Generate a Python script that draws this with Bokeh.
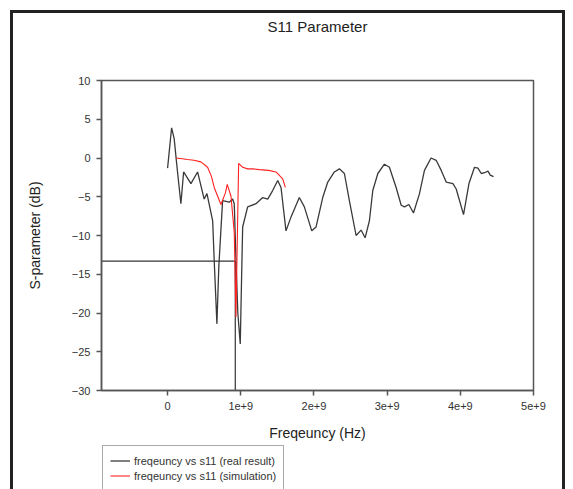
from bokeh.plotting import figure
from bokeh.layouts import column
from bokeh.models import FixedTicker, Range1d, Legend, LegendItem, LinearAxis
from bokeh.embed import file_html
from bokeh.resources import INLINE

# ---- data (frequency in GHz -> Hz, S11 in dB) ----
real_freq_ghz = [0.0, 0.055, 0.09, 0.127, 0.182, 0.219, 0.319, 0.41, 0.50, 0.538,
                 0.616, 0.637, 0.674, 0.70, 0.739, 0.752, 0.843, 0.889, 0.911, 0.934,
                 0.96, 0.993, 1.01, 1.026, 1.094, 1.208, 1.30, 1.368, 1.436, 1.505,
                 1.55, 1.618, 1.687, 1.80, 1.869, 1.97, 2.029, 2.12, 2.189, 2.279,
                 2.347, 2.416, 2.484, 2.576, 2.644, 2.699, 2.758, 2.804, 2.873, 2.963,
                 3.031, 3.123, 3.192, 3.237, 3.297, 3.36, 3.442, 3.51, 3.60, 3.67,
                 3.739, 3.807, 3.899, 3.944, 4.044, 4.118, 4.194, 4.241, 4.286, 4.331,
                 4.378, 4.409, 4.454]
real_s11 = [-1.3, 3.9, 2.5, -1.0, -5.9, -1.8, -3.3, -1.8, -5.3, -4.6,
            -8.1, -13.2, -21.4, -14.0, -7.6, -5.5, -5.7, -5.3, -5.9, -13.0,
            -20.0, -24.0, -16.0, -8.9, -6.3, -5.9, -5.1, -5.3, -4.2, -2.9,
            -3.8, -9.4, -7.6, -5.1, -6.3, -9.4, -8.9, -5.1, -3.1, -1.8,
            -1.4, -2.0, -5.5, -10.0, -9.3, -10.3, -8.1, -4.2, -2.0, -0.8,
            -1.2, -3.8, -6.1, -6.3, -6.0, -7.1, -4.6, -1.6, 0.0, -0.3,
            -1.6, -3.1, -3.3, -4.0, -7.3, -3.3, -1.2, -1.3, -2.0, -1.9,
            -1.7, -2.2, -2.4]

sim_freq_ghz = [0.114, 0.20, 0.274, 0.36, 0.455, 0.547, 0.60, 0.637, 0.729, 0.79,
                0.815, 0.866, 0.911, 0.934, 0.971, 1.026, 1.094, 1.17, 1.253, 1.38,
                1.481, 1.573, 1.609]
sim_s11 = [0.0, -0.1, -0.2, -0.3, -0.5, -1.2, -2.4, -3.8, -6.0, -4.5,
           -3.4, -4.9, -9.6, -20.5, -0.7, -1.2, -1.4, -1.4, -1.5, -1.6,
           -1.8, -2.7, -3.8]

marker_freq_ghz = 0.925
marker_s11 = -13.3

x_ticks_ghz = [0, 1, 2, 3, 4, 5]
x_tick_labels = ["0", "1e+9", "2e+9", "3e+9", "4e+9", "5e+9"]
y_ticks = [-30, -25, -20, -15, -10, -5, 0, 5, 10]

x_start, x_end = -0.903e9, 5.0e9
y_start, y_end = -30, 10

real_freq = [f * 1e9 for f in real_freq_ghz]
sim_freq = [f * 1e9 for f in sim_freq_ghz]
marker_freq = marker_freq_ghz * 1e9

FONT = "Liberation Sans"
TXT = "#333333"
AX = "#555555"
REAL_COLOR = "#3a3a3a"
SIM_COLOR = "#ff2020"

p = figure(width=555, height=434, output_backend="svg", toolbar_location=None,
           x_range=Range1d(x_start, x_end), y_range=Range1d(y_start, y_end),
           min_border_left=91, min_border_right=32, min_border_top=70,
           min_border_bottom=54)
p.title.visible = False
p.border_fill_color = None
p.background_fill_color = None

xa = p.below[0]
ya = p.left[0]

# title as a label-only axis above the frame
top_axis = LinearAxis(ticker=FixedTicker(ticks=[]), axis_label="S11 Parameter")
top_axis.axis_line_color = None
top_axis.major_tick_line_color = None
top_axis.minor_tick_line_color = None
top_axis.major_tick_out = 0
top_axis.major_tick_in = 0
top_axis.major_label_standoff = 0
top_axis.axis_label_standoff = 46
top_axis.axis_label_text_font = FONT
top_axis.axis_label_text_font_size = "15px"
top_axis.axis_label_text_font_style = "normal"
top_axis.axis_label_text_color = "#222222"
p.add_layout(top_axis, "above")

p.grid.visible = False
p.outline_line_color = AX
p.outline_line_width = 1.5

for ax in (xa, ya):
    ax.axis_line_color = AX
    ax.axis_line_width = 1.5
    ax.major_tick_line_color = AX
    ax.major_tick_line_width = 1.5
    ax.major_tick_in = 0
    ax.major_tick_out = 5
    ax.minor_tick_line_color = None
    ax.major_label_text_font = FONT
    ax.major_label_text_font_size = "11px"
    ax.major_label_text_color = TXT
    ax.axis_label_text_font = FONT
    ax.axis_label_text_font_size = "14px"
    ax.axis_label_text_font_style = "normal"
    ax.axis_label_text_color = "#222222"

xa.ticker = FixedTicker(ticks=[t * 1e9 for t in x_ticks_ghz])
xa.major_label_overrides = {t * 1e9: lab for t, lab in zip(x_ticks_ghz, x_tick_labels)}
xa.axis_label = "Freqeuncy (Hz)"
xa.major_label_standoff = 6
xa.axis_label_standoff = 12

ya.ticker = FixedTicker(ticks=y_ticks)
ya.axis_label = "S-parameter (dB)"
ya.major_label_standoff = 6
ya.axis_label_standoff = 26

# marker lines (-13.3 dB cross)
p.line([x_start, marker_freq], [marker_s11, marker_s11], line_color="#333333", line_width=1.2)
p.line([marker_freq, marker_freq], [y_start, marker_s11], line_color="#333333", line_width=1.2)

p.line(real_freq, real_s11, line_color=REAL_COLOR, line_width=1.3)
p.line(sim_freq, sim_s11, line_color=SIM_COLOR, line_width=1.1)

# ---- legend strip below the chart ----
leg = figure(width=555, height=45, output_backend="svg", toolbar_location=None,
             x_range=Range1d(0, 1), y_range=Range1d(0, 1),
             x_axis_type=None, y_axis_type=None, min_border=0)
leg.grid.visible = False
leg.outline_line_color = None
leg.border_fill_color = None
leg.background_fill_color = None
lr_real = leg.line([5, 6], [5, 6], line_color=REAL_COLOR, line_width=1.3)
lr_sim = leg.line([5, 6], [5, 6], line_color=SIM_COLOR, line_width=1.1)

legend = Legend(items=[LegendItem(label="freqeuncy vs s11 (real result)", renderers=[lr_real]),
                       LegendItem(label="freqeuncy vs s11 (simulation)", renderers=[lr_sim])],
                location=(1, -2))
legend.label_text_font = FONT
legend.label_text_font_size = "11px"
legend.label_text_color = TXT
legend.border_line_color = AX
legend.border_line_width = 1.2
legend.padding = 7
legend.spacing = 0
legend.label_height = 15
legend.glyph_height = 15
legend.glyph_width = 20
legend.label_standoff = 4
legend.margin = 0
legend.background_fill_color = None
leg.add_layout(legend, "center")

layout = column(p, leg, spacing=0)
layout.styles = {"margin": "10px 0 0 10px",
                 "box-shadow": "inset 3px 3px 0 0 #222222, inset -3px 0 0 0 #222222"}

open("out.html", "w").write(file_html(layout, INLINE))
